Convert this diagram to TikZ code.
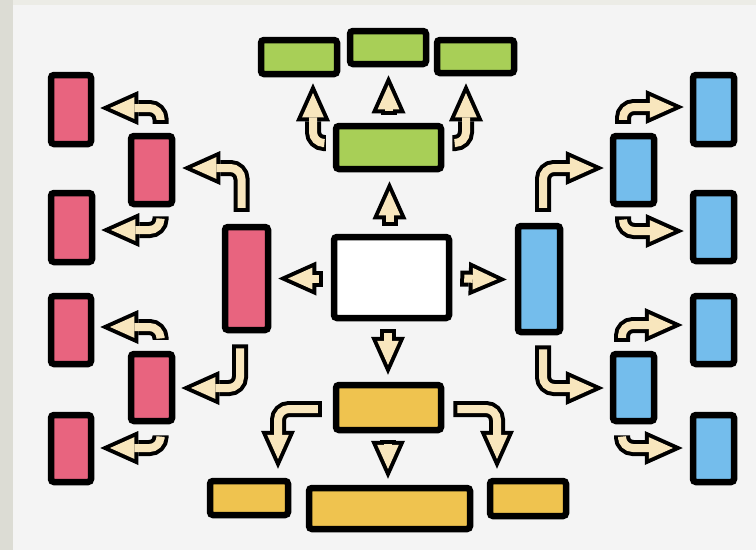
\documentclass[tikz,border=0pt]{standalone}
\usetikzlibrary{arrows.meta,calc}
\definecolor{outergray}{HTML}{DCDCD4}
\definecolor{topgray}{HTML}{ECECE6}
\definecolor{panel}{HTML}{F4F4F4}
\definecolor{pinkc}{HTML}{E8647F}
\definecolor{greenc}{HTML}{A8CF57}
\definecolor{yellowc}{HTML}{EFC34F}
\definecolor{bluec}{HTML}{74BDEC}
\definecolor{creamc}{HTML}{F8E6BD}
\tikzset{
  box/.style={draw=black, line width=6.5pt, rounded corners=3pt, inner sep=0pt},
  pbox/.style={box, fill=pinkc},
  gbox/.style={box, fill=greenc},
  ybox/.style={box, fill=yellowc},
  bbox/.style={box, fill=bluec},
  wbox/.style={box, fill=white},
  fat/.style={draw=black, line width=16pt, rounded corners=11pt,
    -{Triangle[length=38pt,width=34pt,line width=0pt]},
    postaction={draw=creamc, line width=8pt,
      -{Triangle[length=24.2pt,width=21.7pt,line width=0pt]},
      shorten >=9.8pt, shorten <=4pt}}
}
\begin{document}
\begin{tikzpicture}[x=1pt,y=-1pt]
\useasboundingbox (0,0) rectangle (756,550);
\fill[outergray] (0,0) rectangle (756,550);
\fill[topgray] (13,0) rectangle (756,5);
\fill[panel] (13,5) rectangle (756,550);

% red boxes
\node[pbox, minimum width=40pt, minimum height=69pt] (R1) at (71,109.5) {};
\node[pbox, minimum width=41pt, minimum height=68pt] (R2) at (151.5,170) {};
\node[pbox, minimum width=41pt, minimum height=69pt] (R3) at (71.5,227.5) {};
\node[pbox, minimum width=43pt, minimum height=103pt] (RB) at (246.5,278.5) {};
\node[pbox, minimum width=40pt, minimum height=68pt] (R4) at (71,330) {};
\node[pbox, minimum width=41pt, minimum height=67pt] (R5) at (151.5,387.5) {};
\node[pbox, minimum width=40pt, minimum height=67pt] (R6) at (71,448.5) {};

% green boxes
\node[gbox, minimum width=76pt, minimum height=34pt] (G1) at (299,57) {};
\node[gbox, minimum width=76pt, minimum height=33pt] (G2) at (388,47.5) {};
\node[gbox, minimum width=77pt, minimum height=33pt] (G3) at (475.5,56.5) {};
\node[gbox, minimum width=105pt, minimum height=43pt] (GM) at (388.5,147.5) {};

% center
\node[wbox, minimum width=115pt, minimum height=81pt] (W) at (391.5,277.5) {};

% yellow boxes
\node[ybox, minimum width=105pt, minimum height=45pt] (YM) at (388.5,407.5) {};
\node[ybox, minimum width=78pt, minimum height=34pt] (Y1) at (249,498) {};
\node[ybox, minimum width=161pt, minimum height=41pt] (Y2) at (389.5,508.5) {};
\node[ybox, minimum width=76pt, minimum height=35pt] (Y3) at (528,498.5) {};

% blue boxes
\node[bbox, minimum width=42pt, minimum height=106pt] (BB) at (539,279) {};
\node[bbox, minimum width=41pt, minimum height=68pt] (BT) at (633.5,170) {};
\node[bbox, minimum width=41pt, minimum height=69pt] (B1) at (713.5,109.5) {};
\node[bbox, minimum width=41pt, minimum height=68pt] (B2) at (713.5,227) {};
\node[bbox, minimum width=41pt, minimum height=68pt] (B3) at (713.5,330) {};
\node[bbox, minimum width=41pt, minimum height=67pt] (BM) at (633.5,387.5) {};
\node[bbox, minimum width=41pt, minimum height=67pt] (B4) at (713.5,448.5) {};

% center arrows
\draw[fat] ($(W.north)+(-2,-8)$) -- ($(GM.south)+(1,9)$);
\draw[fat] ($(W.west)+(-8,1)$) -- ($(RB.east)+(7,0)$);
\draw[fat] ($(W.east)+(8,1)$) -- ($(BB.west)+(-8,0.5)$);
\draw[fat] ($(W.south)+(-3.5,8)$) -- ($(YM.north)+(-0.5,-7)$);

% green arrows
\draw[fat] ($(GM.north)+(0,-8)$) -- ($(G2.south)+(0.5,8)$);
\draw[fat] ($(GM.west)+(-7,-4.5)$) -| ($(G1.south)+(14,6)$);
\draw[fat] ($(GM.east)+(8,-4.5)$) -| ($(G3.south)+(-9.5,7)$);

% yellow arrows
\draw[fat] ($(YM.south)+(-0.5,7)$) -- ($(Y2.north)+(-1.5,-6)$);
\draw[fat] ($(YM.west)+(-11,1.5)$) -| ($(Y1.north)+(29,-9)$);
\draw[fat] ($(YM.east)+(9,1.5)$) -| ($(Y3.north)+(-31,-9)$);

% red arrows
\draw[fat] ($(RB.north)+(-5,-12)$) |- ($(R2.east)+(7,-2)$);
\draw[fat] ($(RB.south)+(-6.5,11)$) |- ($(R5.east)+(6,0.5)$);
\draw[fat] ($(R2.north)+(9,-9)$) |- ($(R1.east)+(6,-1.5)$);
\draw[fat] ($(R2.south)+(9,9)$) |- ($(R3.east)+(6,2.5)$);
\draw[fat] ($(R5.north)+(9,-11)$) |- ($(R4.east)+(6,-3)$);
\draw[fat] ($(R5.south)+(9,11)$) |- ($(R6.east)+(6,-0.5)$);

% blue arrows
\draw[fat] ($(BB.north)+(4,-11)$) |- ($(BT.west)+(-6,-2)$);
\draw[fat] ($(BB.south)+(4,10)$) |- ($(BM.west)+(-6,0.5)$);
\draw[fat] ($(BT.north)+(-10.5,-9)$) |- ($(B1.west)+(-6,-2.5)$);
\draw[fat] ($(BT.south)+(-10.5,9)$) |- ($(B2.west)+(-6,4)$);
\draw[fat] ($(BM.north)+(-11.5,-9)$) |- ($(B3.west)+(-7,-5)$);
\draw[fat] ($(BM.south)+(-11.5,11)$) |- ($(B4.west)+(-7,-0.5)$);
\end{tikzpicture}
\end{document}
